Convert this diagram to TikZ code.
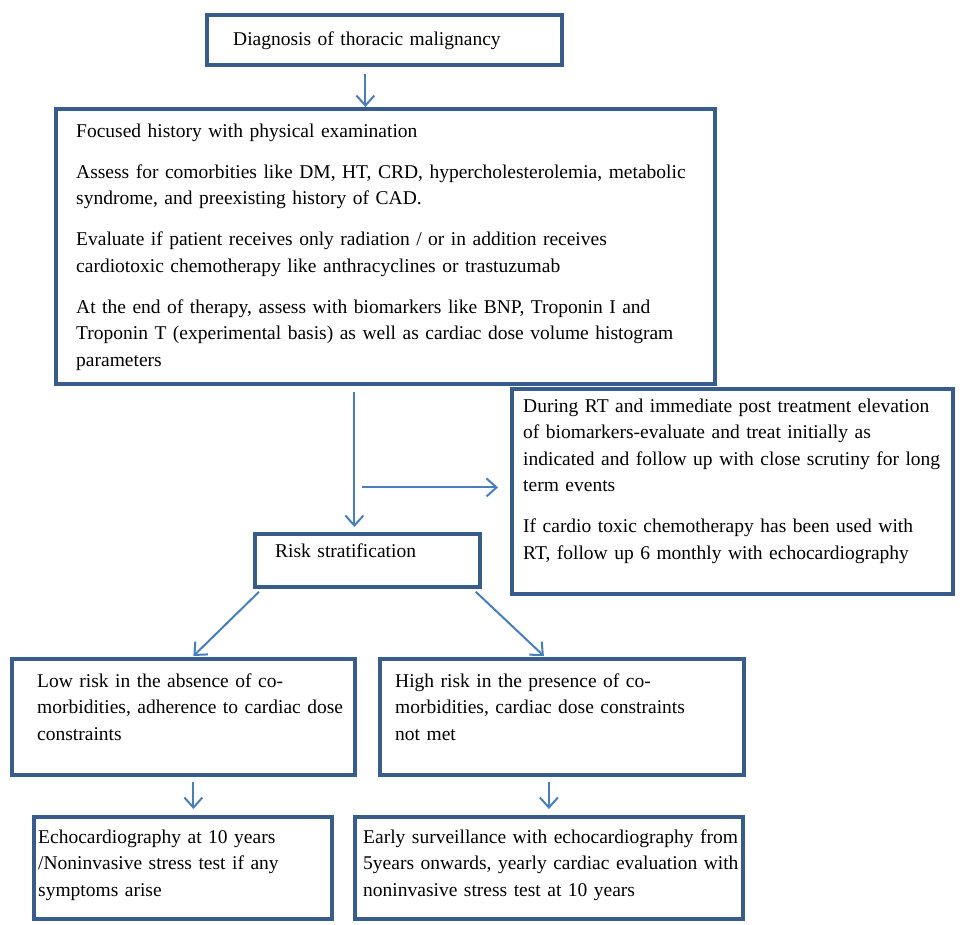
\documentclass[tikz,border=0pt]{standalone}
\usepackage{fontspec}
\setmainfont{Liberation Serif}
\usetikzlibrary{arrows.meta,calc,positioning}

\definecolor{boxblue}{RGB}{56,93,138}
\definecolor{arrowblue}{RGB}{74,126,187}

\tikzset{
  box/.style = {draw=boxblue, line width=3.8pt, rectangle, inner sep=0pt, anchor=north west},
  txt/.style = {anchor=base west, inner sep=0pt, align=left, text width=#1,
                font=\fontsize{19.5}{26.5}\selectfont},
  txt/.default = 640pt,
  arr/.style = {draw=arrowblue, line width=2pt, -{Straight Barb[length=10pt,width=18pt]}}
}

\begin{document}
\begin{tikzpicture}[x=1pt, y=-1pt]
      \useasboundingbox (0,0) rectangle (965,924);

      \node[box, minimum width=355pt, minimum height=50pt] (diag) at (205,13) {};
      \node[box, minimum width=659pt, minimum height=275pt] (hist) at (54,107) {};
      \node[box, minimum width=441pt, minimum height=205pt] (during) at (510,387) {};
      \node[box, minimum width=225pt, minimum height=53pt] (risk) at (253,532) {};
      \node[box, minimum width=343pt, minimum height=116pt] (low) at (10,657) {};
      \node[box, minimum width=364pt, minimum height=116pt] (high) at (378,657) {};
      \node[box, minimum width=298pt, minimum height=102pt] (echo) at (32,815) {};
      \node[box, minimum width=388pt, minimum height=102pt] (early) at (353,815) {};

      \node[txt] (diagtxt) at ($(diag.north west)+(28,32)$) {Diagnosis of thoracic malignancy};
      \node[txt] (histtxt) at ($(hist.north west)+(22,30)$) {Focused history with physical examination\\[14.5pt]
        Assess for comorbities like DM, HT, CRD, hypercholesterolemia, metabolic\\
        syndrome, and preexisting history of CAD.\\[14.5pt]
        Evaluate if patient receives only radiation / or in addition receives\\
        cardiotoxic chemotherapy like anthracyclines or trastuzumab\\[14.5pt]
        At the end of therapy, assess with biomarkers like BNP, Troponin I and\\
        Troponin T (experimental basis) as well as cardiac dose volume histogram\\
        parameters};
      \node[txt] (duringtxt) at ($(during.north west)+(13,25)$) {During RT and immediate post treatment elevation\\
        of biomarkers-evaluate and treat initially as\\
        indicated and follow up with close scrutiny for long\\
        term events\\[14.5pt]
        If cardio toxic chemotherapy has been used with\\
        RT, follow up 6 monthly with echocardiography};
      \node[txt] (risktxt) at ($(risk.north west)+(22,25)$) {Risk stratification};
      \node[txt] (lowtxt) at ($(low.north west)+(27,30)$) {Low risk in the absence of co-\\
        morbidities, adherence to cardiac dose\\
        constraints};
      \node[txt] (hightxt) at ($(high.north west)+(17,30)$) {High risk in the presence of co-\\
        morbidities, cardiac dose constraints\\
        not met};
      \node[txt] (echotxt) at ($(echo.north west)+(6,28)$) {Echocardiography at 10 years\\
        /Noninvasive stress test if any\\
        symptoms arise};
      \node[txt] (earlytxt) at ($(early.north west)+(10,28)$) {Early surveillance with echocardiography from\\
        5years onwards, yearly cardiac evaluation with\\
        noninvasive stress test at 10 years};

      \coordinate (a1) at ($(diag.south)+(-19,7)$);
      \coordinate (a2) at ($(hist.south)+(-31,6)$);
      \coordinate (a3) at ($(during.west)+(-148,-4)$);
      \coordinate (a6) at ($(low.south)+(10,5)$);
      \coordinate (a7) at ($(high.south -| early.north)+(0,5)$);

      \draw[arr] (a1) -- (a1 |- hist.north);
      \draw[arr] (a2) -- ($(a2 |- risk.north)+(0,-5)$);
      \draw[arr] (a3) -- ($(during.west)+(-12,-4)$);
      \draw[arr] ($(risk.south west)+(6,3)$) -- ($(low.north)+(10,-1)$);
      \draw[arr] ($(risk.south east)+(-6,3)$) -- ($(high.north)+(-18,-1)$);
      \draw[arr] (a6) -- ($(a6 |- echo.north)+(0,-6)$);
      \draw[arr] (a7) -- ($(early.north)+(0,-6)$);
\end{tikzpicture}
\end{document}
